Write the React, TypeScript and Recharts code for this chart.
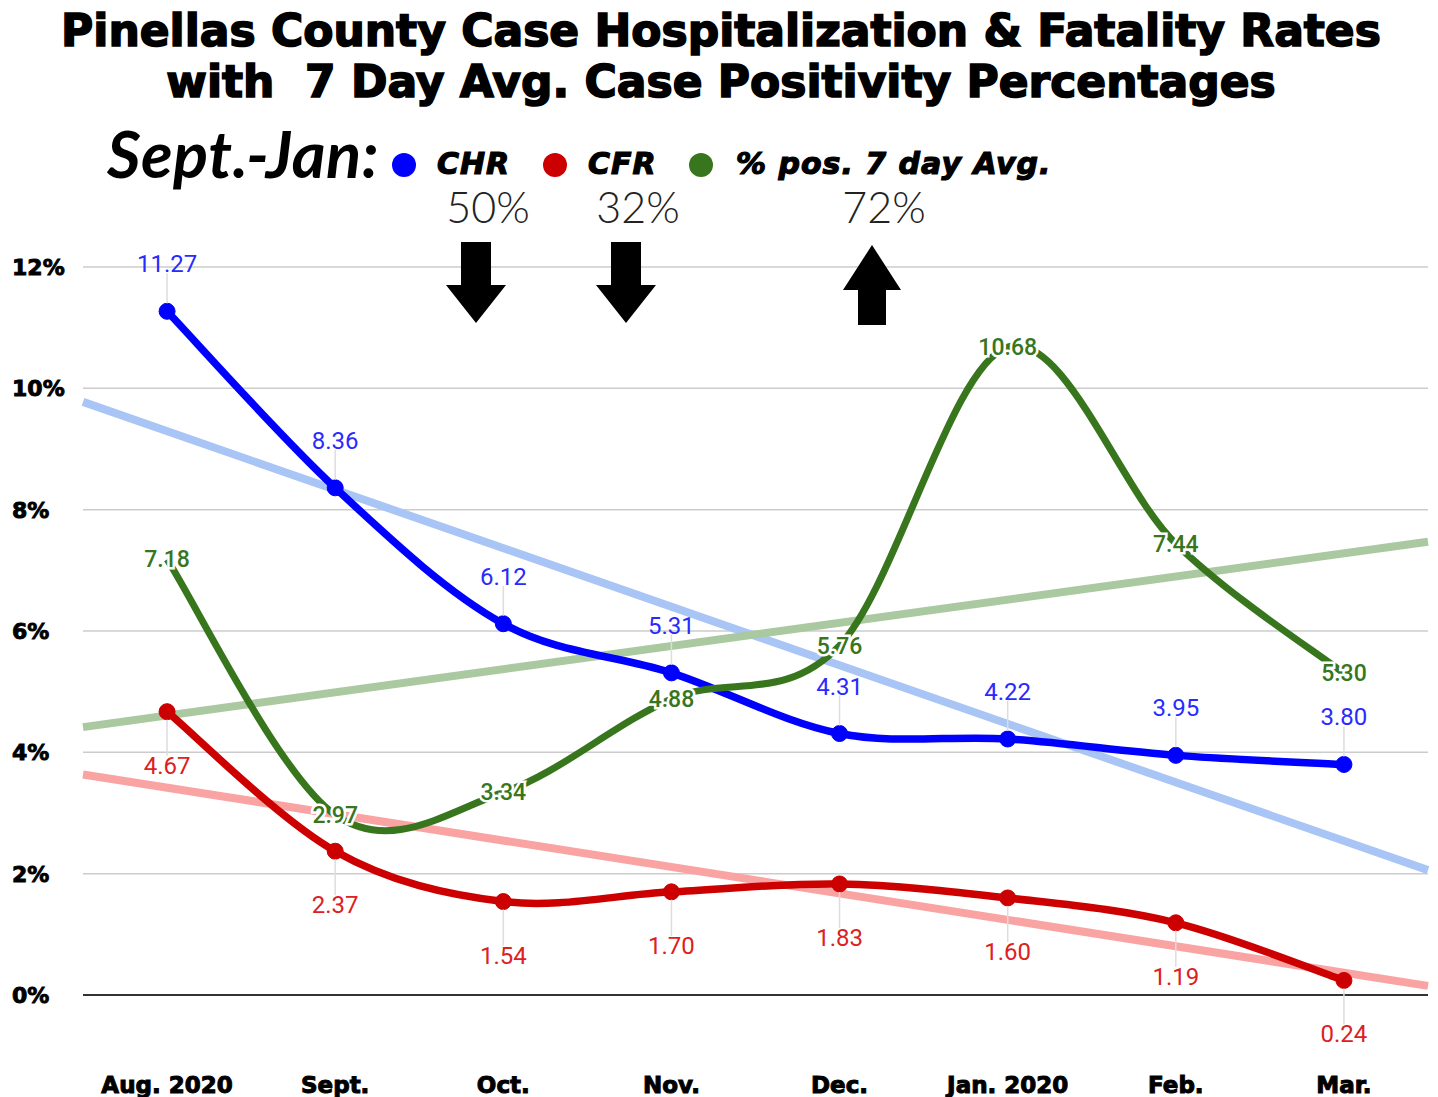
import React from "react"
import {
  LineChart,
  Line,
  XAxis,
  YAxis,
  CartesianGrid,
  ReferenceLine,
  LabelList,
} from "recharts"

// monthly values
const months = ["Aug. 2020", "Sept.", "Oct.", "Nov.", "Dec.", "Jan. 2020", "Feb.", "Mar."]
const chrValues = [11.27, 8.36, 6.12, 5.31, 4.31, 4.22, 3.95, 3.8]
const cfrValues = [4.67, 2.37, 1.54, 1.7, 1.83, 1.6, 1.19, 0.24]
const posValues = [7.18, 2.97, 3.34, 4.88, 5.76, 10.68, 7.44, 5.3]
const yTicks = [0, 2, 4, 6, 8, 10, 12]

const legendItems = [
  { name: "CHR", color: "#0000ff", change: "50%", up: false },
  { name: "CFR", color: "#cc0000", change: "32%", up: false },
  { name: "% pos. 7 day Avg.", color: "#38761d", change: "72%", up: true },
]

const BLUE = "#0000ff"
const RED = "#cc0000"
const GREEN = "#38761d"
const HEAVY = "'DejaVu Sans', sans-serif"

const rows = months.map((m, i) => ({
  idx: i,
  chr: chrValues[i],
  cfr: cfrValues[i],
  pos: posValues[i],
}))

// least squares trend line, spans the whole plot like the sheet's trendline
const trend = (values: number[]) => {
  const n = values.length
  const mx = (n - 1) / 2
  const my = values.reduce((a, b) => a + b, 0) / n
  let sxy = 0
  let sxx = 0
  values.forEach((v, i) => {
    sxy += (i - mx) * (v - my)
    sxx += (i - mx) * (i - mx)
  })
  const slope = sxy / sxx
  return [-0.5, n - 0.5].map((x) => ({ idx: x, v: my + slope * (x - mx) }))
}

// catmull-rom style smoothing (the sheet's "smooth" line)
const smoothCurve = (context: any) => {
  let pts: number[][] = []
  return {
    areaStart() {},
    areaEnd() {},
    lineStart() {
      pts = []
    },
    lineEnd() {
      const n = pts.length
      if (!n) return
      context.moveTo(pts[0][0], pts[0][1])
      for (let i = 0; i < n - 1; i++) {
        const p0 = pts[Math.max(i - 1, 0)]
        const p1 = pts[i]
        const p2 = pts[i + 1]
        const p3 = pts[Math.min(i + 2, n - 1)]
        context.bezierCurveTo(
          p1[0] + (p2[0] - p0[0]) / 6,
          p1[1] + (p2[1] - p0[1]) / 6,
          p2[0] - (p3[0] - p1[0]) / 6,
          p2[1] - (p3[1] - p1[1]) / 6,
          p2[0],
          p2[1]
        )
      }
    },
    point(x: number, y: number) {
      pts.push([+x, +y])
    },
  }
}

const makeLabel = (color: string, where: "above" | "below" | "center") => (props: any) => {
  const { x, y, value } = props
  const text = Number(value).toFixed(2)
  if (where === "center") {
    return (
      <text
        x={x}
        y={y + 8}
        textAnchor="middle"
        fill={color}
        stroke="#fff"
        strokeWidth={5}
        paintOrder="stroke"
        fontFamily="Roboto"
        fontWeight={500}
        fontSize={23}
      >
        {text}
      </text>
    )
  }
  const up = where === "above"
  return (
    <g>
      <line
        x1={x}
        x2={x}
        y1={up ? y - 8 : y + 8}
        y2={up ? y - 38 : y + 44}
        stroke="#dddddd"
        strokeWidth={1.5}
      />
      <text
        x={x}
        y={up ? y - 39 : y + 62}
        textAnchor="middle"
        fill={color}
        fontFamily="Roboto"
        fontSize={24}
      >
        {text}
      </text>
    </g>
  )
}

const YTick = (props: any) => {
  const { y, payload } = props
  return (
    <text
      x={12}
      y={y + 8}
      fontFamily={HEAVY}
      fontWeight="bold"
      fontSize={22}
      fill="#000"
      stroke="#000"
      strokeWidth={0.9}
    >
      {payload.value}%
    </text>
  )
}

const XTick = (props: any) => {
  const { x, y, payload } = props
  return (
    <text
      x={x}
      y={y + 96}
      textAnchor="middle"
      fontFamily={HEAVY}
      fontWeight="bold"
      fontSize={23}
      fill="#000"
      stroke="#000"
      strokeWidth={1}
    >
      {months[payload.value]}
    </text>
  )
}

const downArrow = (cx: number) =>
  `${cx - 15},242 ${cx + 15},242 ${cx + 15},285 ${cx + 30},285 ${cx},323 ${cx - 30},285 ${cx - 15},285`
const upArrow = (cx: number) =>
  `${cx},245 ${cx + 29},290 ${cx + 14},290 ${cx + 14},325 ${cx - 14},325 ${cx - 14},290 ${cx - 29},290`

const legendDots = [404, 555, 701]
const legendText = [437, 588, 736]
const changeX = [488, 638, 884]
const arrowX = [476, 626, 872]

export default function App() {
  return (
    <div
      style={{
        position: "absolute",
        left: 0,
        top: 0,
        width: 1438,
        height: 1097,
        background: "#fff",
      }}
    >
      <LineChart
        width={1438}
        height={1097}
        data={rows}
        margin={{ top: 267, right: 10, bottom: 0, left: 0 }}
      >
        <CartesianGrid vertical={false} stroke="#cccccc" strokeWidth={1.5} />
        <XAxis
          dataKey="idx"
          type="number"
          domain={[-0.5, 7.5]}
          ticks={[0, 1, 2, 3, 4, 5, 6, 7]}
          axisLine={false}
          tickLine={false}
          tickSize={0}
          height={102}
          tick={<XTick />}
          interval={0}
        />
        <YAxis
          domain={[0, 12]}
          ticks={yTicks}
          width={83}
          axisLine={false}
          tickLine={false}
          tick={<YTick />}
        />
        <ReferenceLine y={0} stroke="#333" strokeWidth={2} />
        <Line
          data={trend(chrValues)}
          dataKey="v"
          type="linear"
          stroke="#a9c5f5"
          strokeWidth={8}
          dot={false}
          isAnimationActive={false}
        />
        <Line
          data={trend(posValues)}
          dataKey="v"
          type="linear"
          stroke="#aac9a0"
          strokeWidth={8}
          dot={false}
          isAnimationActive={false}
        />
        <Line
          data={trend(cfrValues)}
          dataKey="v"
          type="linear"
          stroke="#f9a3a3"
          strokeWidth={8}
          dot={false}
          isAnimationActive={false}
        />
        <Line
          dataKey="chr"
          type={smoothCurve as any}
          stroke={BLUE}
          strokeWidth={7.5}
          dot={{ r: 8, fill: BLUE, stroke: BLUE, strokeWidth: 1 }}
          isAnimationActive={false}
        >
          <LabelList dataKey="chr" content={makeLabel("#2a2aff", "above")} />
        </Line>
        <Line
          dataKey="cfr"
          type={smoothCurve as any}
          stroke={RED}
          strokeWidth={7.5}
          dot={{ r: 8, fill: RED, stroke: RED, strokeWidth: 1 }}
          isAnimationActive={false}
        >
          <LabelList dataKey="cfr" content={makeLabel("#dd2020", "below")} />
        </Line>
        <Line
          dataKey="pos"
          type={smoothCurve as any}
          stroke={GREEN}
          strokeWidth={7}
          dot={false}
          isAnimationActive={false}
        >
          <LabelList dataKey="pos" content={makeLabel(GREEN, "center")} />
        </Line>
      </LineChart>

      <svg
        width={1438}
        height={1097}
        style={{ position: "absolute", left: 0, top: 0, pointerEvents: "none" }}
      >
        <g
          fontFamily={HEAVY}
          fontWeight="bold"
          fontSize={44}
          fill="#000"
          stroke="#000"
          strokeWidth={1.6}
          textAnchor="middle"
        >
          <text x={721} y={46}>
            Pinellas County Case Hospitalization &amp; Fatality Rates
          </text>
          <text x={721} y={97} style={{ whiteSpace: "pre" }}>
            {"with  7 Day Avg. Case Positivity Percentages"}
          </text>
        </g>
        <text
          x={107}
          y={178}
          fontFamily="Lato"
          fontStyle="italic"
          fontWeight={700}
          fontSize={65}
          letterSpacing={0.5}
          fill="#000"
        >
          Sept.-Jan:
        </text>
        {legendItems.map((item, i) => (
          <g key={item.name}>
            <circle cx={legendDots[i]} cy={165} r={12} fill={item.color} />
            <text
              x={legendText[i]}
              y={174}
              fontFamily={HEAVY}
              fontWeight="bold"
              fontStyle="italic"
              fontSize={30}
              letterSpacing={1}
              fill="#000"
              stroke="#000"
              strokeWidth={1.2}
            >
              {item.name}
            </text>
            <text
              x={changeX[i]}
              y={223}
              textAnchor="middle"
              fontFamily="Lato"
              fontWeight={300}
              fontSize={43}
              fill="#222"
            >
              {item.change}
            </text>
            <polygon
              points={item.up ? upArrow(arrowX[i]) : downArrow(arrowX[i])}
              fill="#000"
            />
          </g>
        ))}
      </svg>
    </div>
  )
}
